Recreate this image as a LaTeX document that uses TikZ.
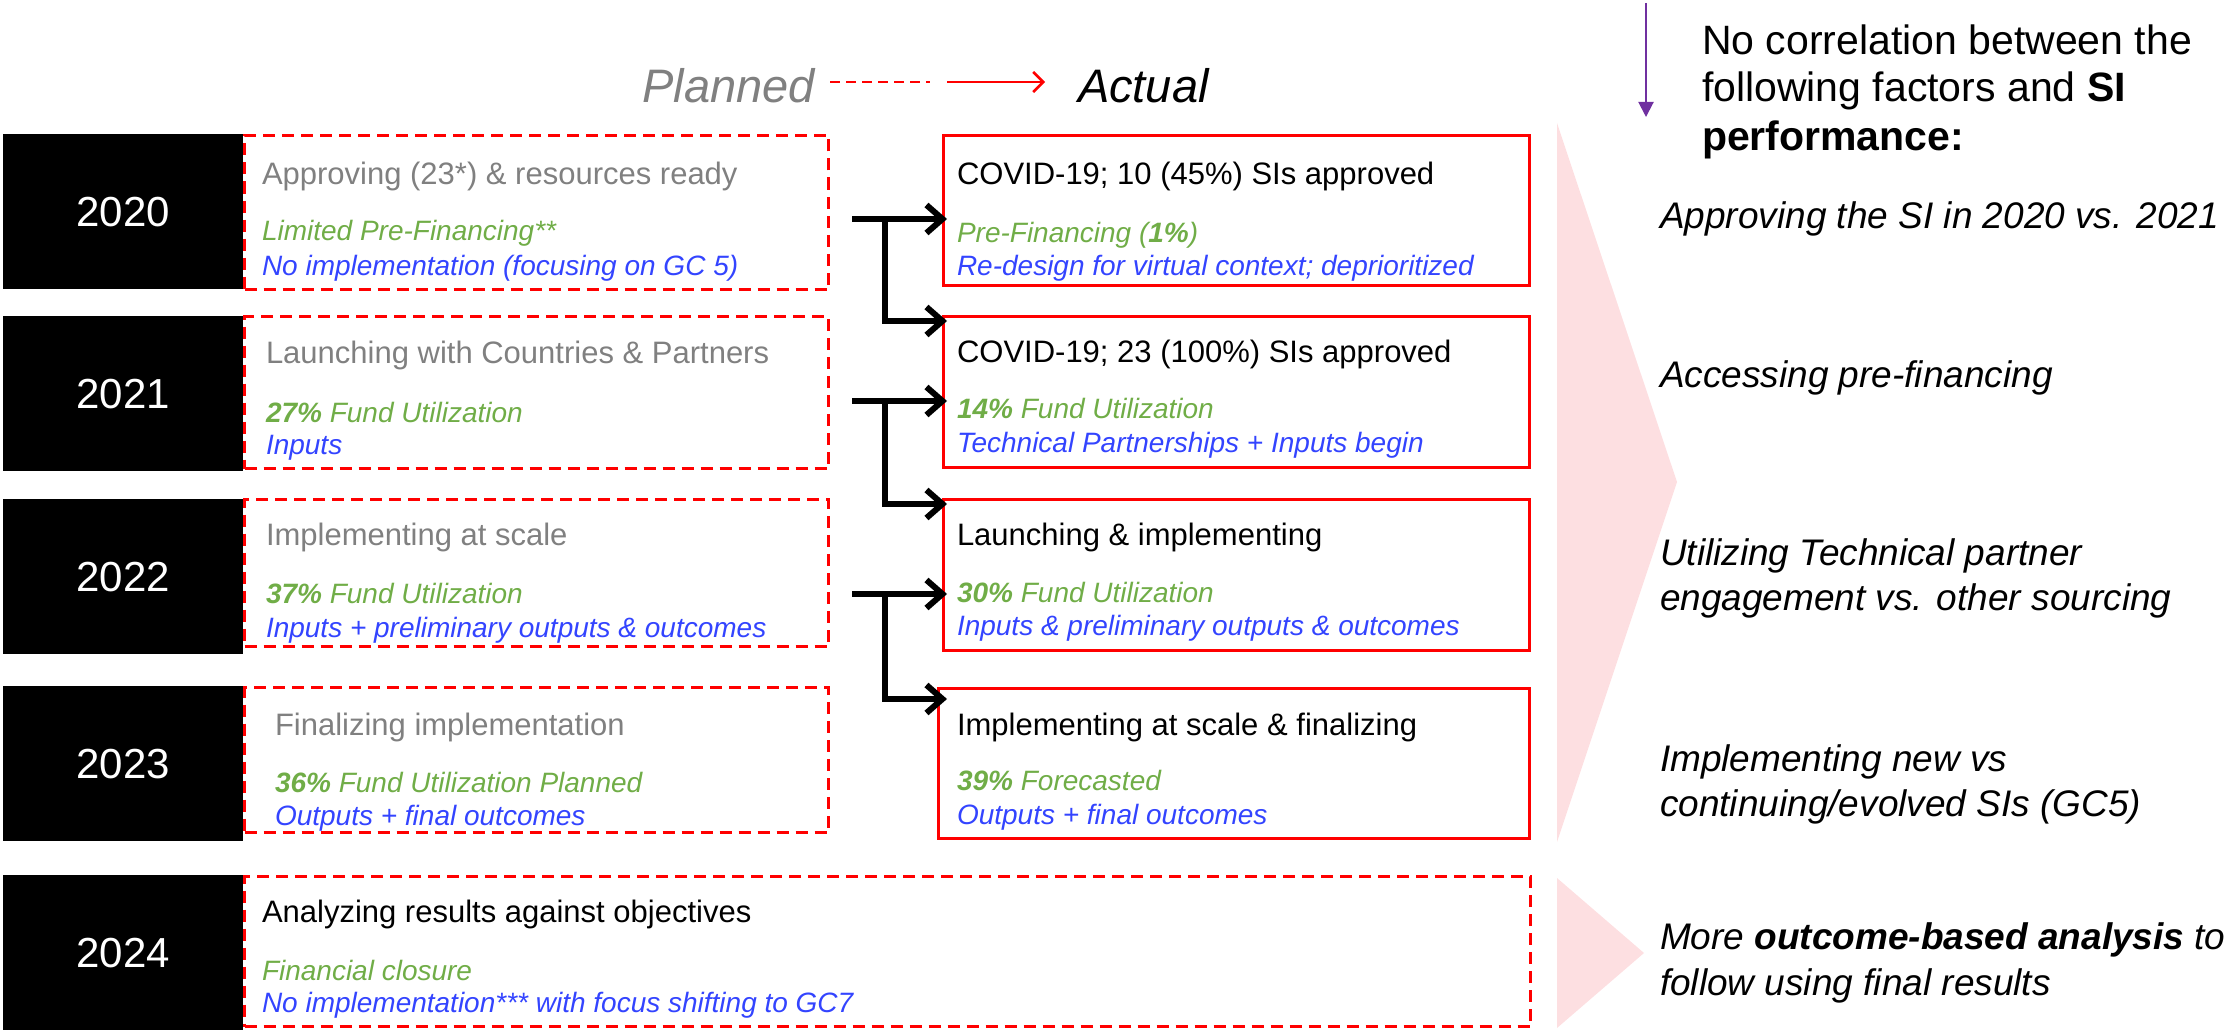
\documentclass[tikz,border=0pt]{standalone}
\usepackage{fontspec}
\setmainfont{Liberation Sans}
\usetikzlibrary{arrows.meta,calc}
\definecolor{pred}{RGB}{255,0,0}
\definecolor{pgreen}{RGB}{112,173,71}
\definecolor{pblue}{RGB}{51,68,255}
\definecolor{pgray}{RGB}{128,128,128}
\definecolor{ppink}{RGB}{253,223,225}
\definecolor{ppurple}{RGB}{112,48,160}
\tikzset{
  txt/.style={inner sep=0pt, outer sep=0pt, anchor=base west},
  ttl/.style={txt, font=\fontsize{31}{37}\selectfont},
  bdy/.style={txt, font=\fontsize{28}{34}\selectfont\itshape},
  grn/.style={bdy, text=pgreen},
  blu/.style={bdy, text=pblue},
  rit/.style={txt, font=\fontsize{37}{45}\selectfont\itshape},
  rhd/.style={txt, font=\fontsize{41}{48}\selectfont},
  yearbox/.style={fill=black, text=white, inner sep=0pt, anchor=north west,
    minimum width=240pt, minimum height=155pt, font=\fontsize{42}{50}\selectfont},
  planbox/.style={draw=pred, line width=3pt, dash pattern=on 12pt off 7pt,
    inner sep=0pt, anchor=north west},
  actbox/.style={draw=pred, line width=3pt, inner sep=0pt, anchor=north west},
  conn/.style={line width=6pt, -{Straight Barb[length=16pt,width=28pt]}},
}
\begin{document}
\begin{tikzpicture}[x=1pt,y=-1pt]
\useasboundingbox (0,0) rectangle (2231,1030);

% pink chevrons
\fill[ppink] (1557,123) -- (1677,482) -- (1557,842) -- cycle;
\fill[ppink] (1557,878) -- (1644,953) -- (1557,1028) -- cycle;

% legend
\node[txt, anchor=base east, font=\fontsize{47}{56}\selectfont\itshape, text=pgray] (planned) at (815,103) {Planned};
\node[txt, font=\fontsize{47}{56}\selectfont\itshape] (actual) at (1078,103) {Actual};
\coordinate (lg1) at (830,82);
\coordinate (lg2) at (930,82);
\coordinate (lg3) at (947,82);
\coordinate (lg4) at (1045,82);
\draw[pred, line width=2.5pt, dash pattern=on 10pt off 6pt] (lg1) -- (lg2);
\draw[pred, line width=2.5pt, -{Straight Barb[length=10pt,width=20pt]}] (lg3) -- (lg4);

% year boxes
\node[yearbox] (y2020) at (3,134) {2020};
\node[yearbox] (y2021) at (3,316) {2021};
\node[yearbox] (y2022) at (3,499) {2022};
\node[yearbox] (y2023) at (3,686) {2023};
\node[yearbox] (y2024) at (3,875) {2024};

% planned boxes
\node[planbox, minimum width=584pt, minimum height=154pt] (p2020) at (243,134) {};
\node[planbox, minimum width=584pt, minimum height=152pt] (p2021) at (243,315) {};
\node[planbox, minimum width=584pt, minimum height=147pt] (p2022) at (243,498) {};
\node[planbox, minimum width=584pt, minimum height=145pt] (p2023) at (243,686) {};
\node[planbox, minimum width=1286pt, minimum height=150pt] (p2024) at (243,875) {};

% actual boxes
\node[actbox, minimum width=586pt, minimum height=150pt] (a2020) at (942,134) {};
\node[actbox, minimum width=586pt, minimum height=151pt] (a2021) at (942,315) {};
\node[actbox, minimum width=586pt, minimum height=151pt] (a2022) at (942,498) {};
\node[actbox, minimum width=591pt, minimum height=150pt] (a2023) at (937,687) {};

% planned texts
\node[ttl, text=pgray] (pt20) at (262,185) {Approving (23*) \& resources ready};
\node[grn] (pg20) at (262,240) {Limited Pre-Financing**};
\node[blu] (pb20) at (262,275) {No implementation (focusing on GC 5)};

\node[ttl, text=pgray] (pt21) at (266,363) {Launching with Countries \& Partners};
\node[grn] (pg21) at (266,422) {\textbf{27\%} Fund Utilization};
\node[blu] (pb21) at (266,454) {Inputs};

\node[ttl, text=pgray] (pt22) at (266,545) {Implementing at scale};
\node[grn] (pg22) at (266,603) {\textbf{37\%} Fund Utilization};
\node[blu] (pb22) at (266,637) {Inputs + preliminary outputs \& outcomes};

\node[ttl, text=pgray] (pt23) at (275,735) {Finalizing implementation};
\node[grn] (pg23) at (275,792) {\textbf{36\%} Fund Utilization Planned};
\node[blu] (pb23) at (275,825) {Outputs + final outcomes};

\node[ttl] (pt24) at (262,922) {Analyzing results against objectives};
\node[grn] (pg24) at (262,980) {Financial closure};
\node[blu] (pb24) at (262,1012) {No implementation*** with focus shifting to GC7};

% actual texts
\node[ttl] (at20) at (957,185) {COVID-19; 10 (45\%) SIs approved};
\node[grn] (ag20) at (957,242) {Pre-Financing (\textbf{1\%})};
\node[blu] (ab20) at (957,275) {Re-design for virtual context; deprioritized};

\node[ttl] (at21) at (957,362) {COVID-19; 23 (100\%) SIs approved};
\node[grn] (ag21) at (957,418) {\textbf{14\%} Fund Utilization};
\node[blu] (ab21) at (957,452) {Technical Partnerships + Inputs begin};

\node[ttl] (at22) at (957,545) {Launching \& implementing};
\node[grn] (ag22) at (957,602) {\textbf{30\%} Fund Utilization};
\node[blu] (ab22) at (957,635) {Inputs \& preliminary outputs \& outcomes};

\node[ttl] (at23) at (957,735) {Implementing at scale \& finalizing};
\node[grn] (ag23) at (957,790) {\textbf{39\%} Forecasted};
\node[blu] (ab23) at (957,824) {Outputs + final outcomes};

% connectors
\coordinate (s1) at (852,219); \coordinate (j1) at (885,219);
\coordinate (s2) at (852,401); \coordinate (j2) at (885,401);
\coordinate (s3) at (852,594); \coordinate (j3) at (885,594);
\draw[conn] (s1) -- ($(s1 -| a2020.west)+(5,0)$);
\draw[conn] (j1) |- ($(a2021.north west)+(5,6)$);
\draw[conn] (s2) -- ($(s2 -| a2021.west)+(5,0)$);
\draw[conn] (j2) |- ($(a2022.north west)+(5,6)$);
\draw[conn] (s3) -- ($(s3 -| a2022.west)+(5,0)$);
\draw[conn] (j3) |- ($(a2023.north west)+(10,12)$);

% purple arrow
\coordinate (pa1) at (1646,3);
\coordinate (pa2) at (1646,117);
\draw[ppurple, line width=2pt, -{Triangle[length=15pt,width=15pt]}] (pa1) -- (pa2);

% right heading
\node[rhd] (h1) at (1702,55) {No correlation between the};
\node[rhd] (h2) at (1702,102) {following factors and \textbf{SI}};
\node[rhd] (h3) at (1702,151) {\textbf{performance:}};

% right items
\node[rit] (r1) at (1660,228) {Approving the SI in 2020 vs. 2021};
\node[rit] (r2) at (1660,387) {Accessing pre-financing};
\node[rit] (r3a) at (1660,565) {Utilizing Technical partner};
\node[rit] (r3b) at (1660,610) {engagement vs. other sourcing};
\node[rit] (r4a) at (1660,771) {Implementing new vs};
\node[rit] (r4b) at (1660,816) {continuing/evolved SIs (GC5)};
\node[rit] (r5a) at (1660,949) {More \textbf{outcome-based analysis} to};
\node[rit] (r5b) at (1660,995) {follow using final results};
\end{tikzpicture}
\end{document}
